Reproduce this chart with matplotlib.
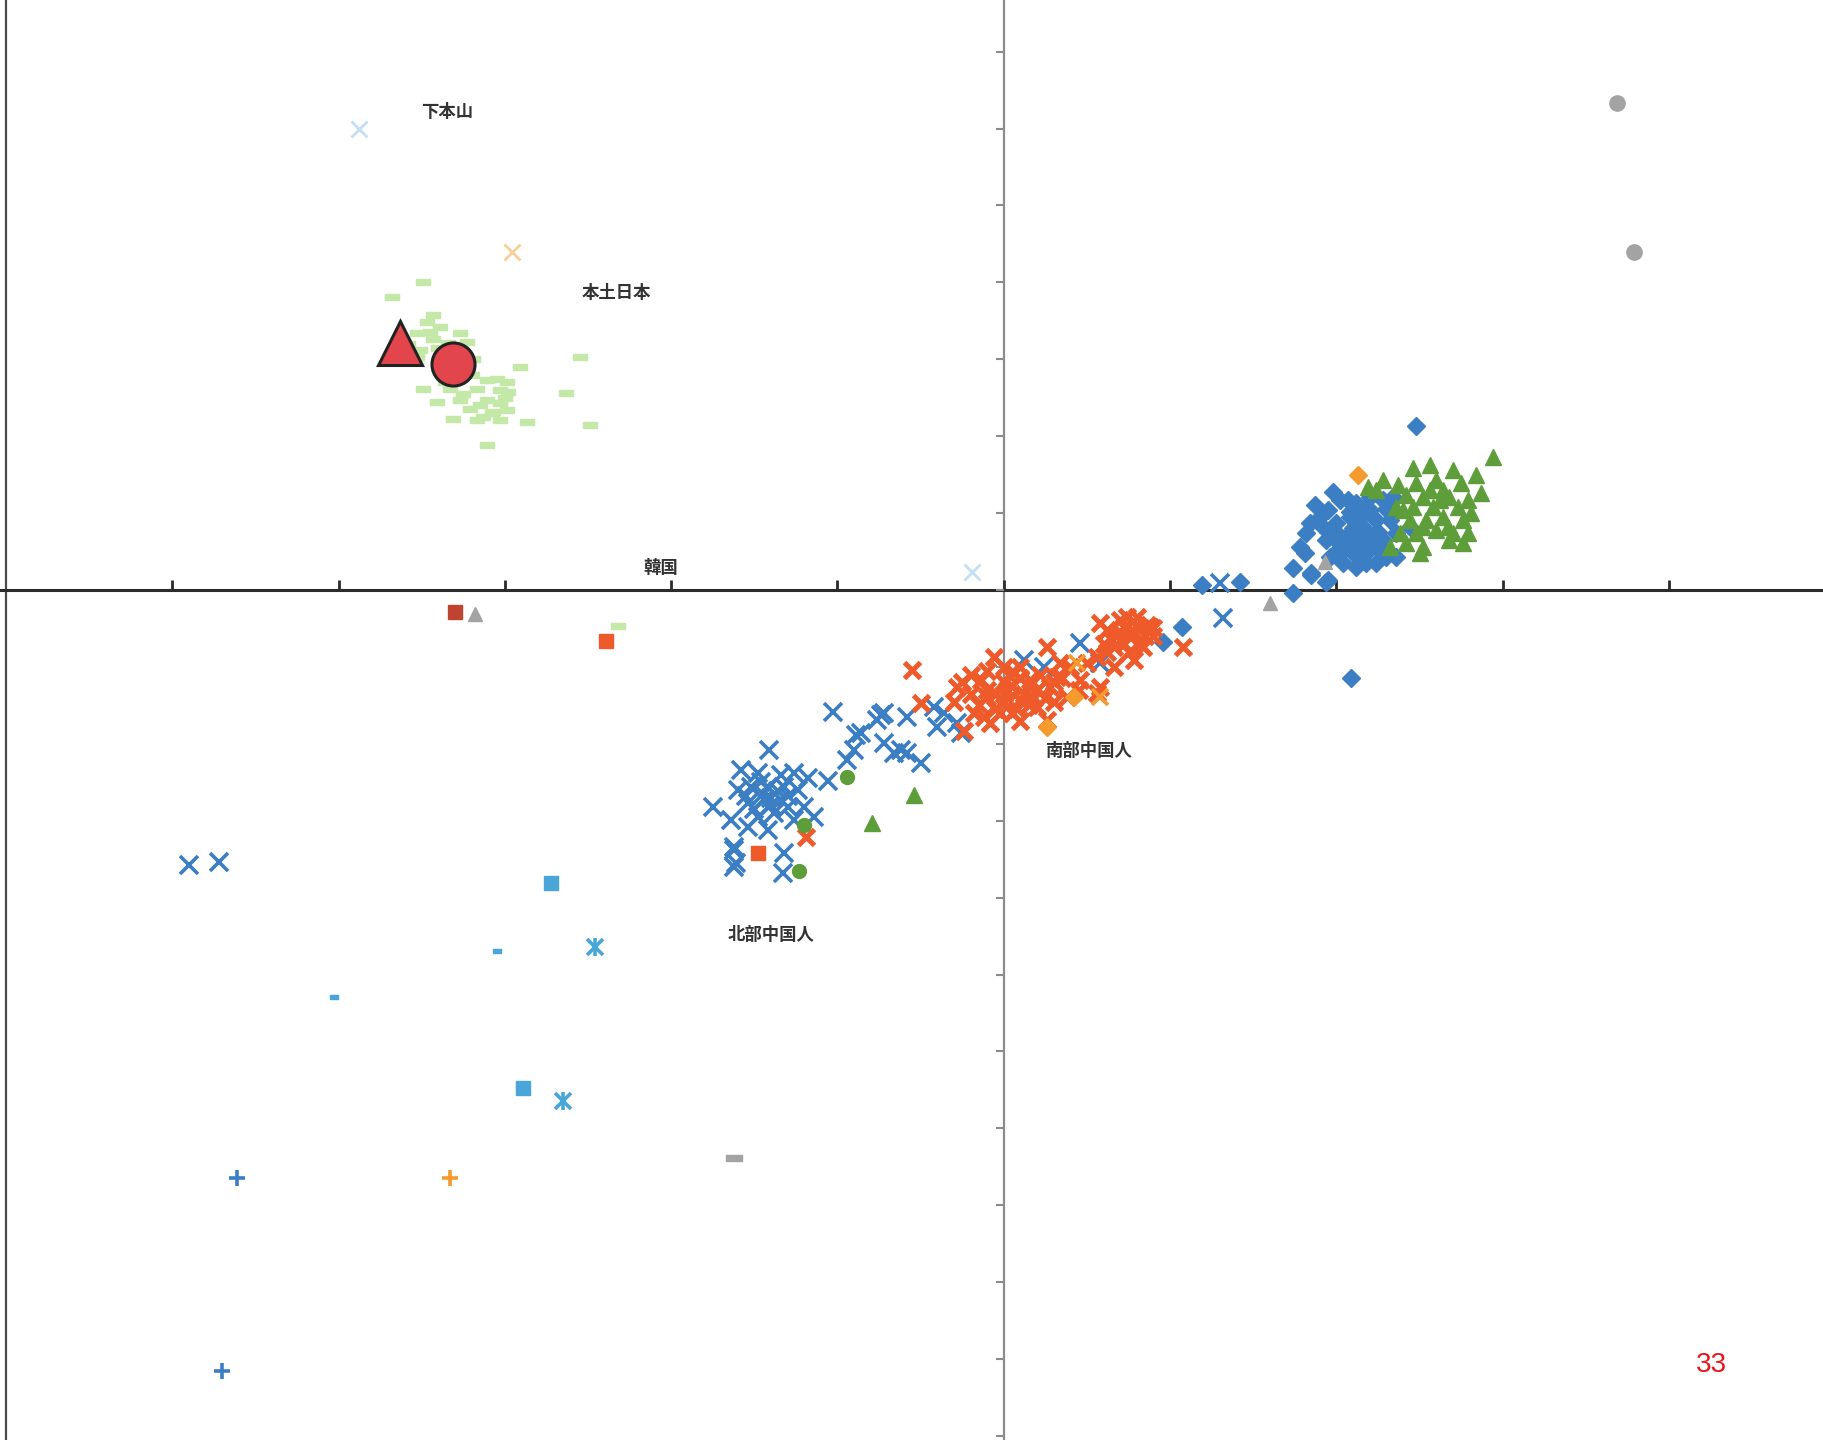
import matplotlib
matplotlib.use("Agg")
import matplotlib.pyplot as plt

# ---------------- data (PCA coordinates, in axis-tick units) ----------------
# light green dashes (mainland Japanese)
jp_x = [-3.49, -3.68, -3.43, -3.47, -3.39, -3.53, -3.27, -3.43, -3.34, -3.23, -3.51, -3.53, -3.29,
        -3.19, -2.91, -3.05, -3.11, -2.99, -3.49, -3.33, -3.17, -3.03, -2.98, -2.63, -3.41, -3.27,
        -3.11, -3.03, -3.21, -2.99, -3.07, -3.13, -3.31, -3.17, -3.03, -2.87, -2.49, -3.11, -2.55,
        -3.45, -3.40, -3.20, -3.00, -3.15, -3.25, -2.32, -3.36, -3.22, -3.08, -3.38, -3.58]
jp_y = [4.01, 3.81, 3.58, 3.49, 3.42, 3.34, 3.34, 3.27, 3.21, 3.23, 3.12, 3.03, 3.08,
        3.01, 2.90, 2.75, 2.73, 2.71, 2.62, 2.62, 2.62, 2.60, 2.58, 2.56, 2.45, 2.47,
        2.47, 2.43, 2.36, 2.34, 2.32, 2.25, 2.23, 2.21, 2.21, 2.19, 2.15, 1.89, 3.03,
        3.35, 3.15, 2.80, 2.50, 2.40, 2.55, -0.47, 2.70, 2.90, 2.30, 2.85, 3.20]

# ancient samples (big red)
anc_tri = (-3.63, 3.21)
anc_circ = (-3.31, 2.94)

# blue diamonds (right cluster)
bd_x = [2.48, 1.98, 1.87, 2.07, 1.95, 1.84, 1.82, 1.78, 1.81, 1.74, 1.85, 1.95, 1.74, 2.02, 2.12,
        2.20, 2.28, 2.34, 2.08, 2.00, 2.16, 2.24, 2.32, 2.36, 2.08, 2.00, 1.94, 2.18, 2.28, 2.02,
        2.10, 2.18, 2.26, 2.36, 2.12, 2.18, 2.04, 2.44, 2.30, 2.20, 1.92, 2.06, 2.14, 2.24, 1.96,
        2.10, 2.15, 2.05, 2.25, 2.12, 2.20, 2.00, 2.30, 2.08, 2.16, 2.22, 2.02, 2.27, 2.14, 1.90,
        1.19, 1.42, 1.85, 1.94, 1.07, 0.96, 2.09]
bd_y = [2.13, 1.28, 1.11, 1.17, 1.04, 0.87, 0.74, 0.56, 0.48, 0.28, 0.22, 0.13, -0.04, 1.17, 1.13,
        1.21, 1.17, 1.21, 0.95, 0.87, 0.82, 0.91, 0.91, 0.74, 0.74, 0.65, 0.65, 0.65, 0.65, 0.48,
        0.48, 0.48, 0.52, 0.43, 0.30, 0.35, 0.35, 0.82, 0.43, 1.04, 0.82, 0.56, 0.56, 0.35, 0.43,
        0.80, 0.95, 0.62, 0.75, 0.68, 0.60, 0.75, 1.05, 1.02, 1.05, 0.70, 0.55, 0.58, 0.40, 0.95,
        0.07, 0.11, 0.20, 0.11, -0.48, -0.67, -1.15]

# green triangles (right cluster)
gt_x = [2.94, 2.56, 2.46, 2.70, 2.84, 2.28, 2.19, 2.37, 2.48, 2.60, 2.75, 2.64, 2.87, 2.42, 2.52,
        2.68, 2.79, 2.36, 2.46, 2.58, 2.73, 2.81, 2.44, 2.54, 2.64, 2.76, 2.38, 2.48, 2.60, 2.70,
        2.79, 2.42, 2.52, 2.68, 2.76, 2.50, 2.32, 2.24, 2.56, 2.62, 2.52, 2.67, 2.40]
gt_y = [1.73, 1.63, 1.58, 1.56, 1.50, 1.43, 1.34, 1.37, 1.39, 1.43, 1.39, 1.30, 1.26, 1.24, 1.21,
        1.21, 1.17, 1.08, 1.08, 1.08, 1.08, 1.00, 0.91, 0.91, 0.95, 0.91, 0.74, 0.74, 0.78, 0.74,
        0.74, 0.61, 0.56, 0.65, 0.61, 0.48, 0.56, 1.30, 1.30, 1.17, 0.82, 0.82, 1.04]

# small green markers near the northern cluster
gc_x = [-0.94, -1.20, -1.23]
gc_y = [-2.43, -3.06, -3.65]
gt2_x = [-0.54, -0.79]
gt2_y = [-2.67, -3.03]

# red-orange crosses (southern Chinese)
rx_x = [-0.55, -0.50, -0.28, -0.06, -0.14, -0.10, -0.18, -0.08, -0.02, 0.02, 0.06, 0.10, 0.16,
        0.20, 0.26, 0.28, 0.26, 0.34, 0.38, 0.32, 0.46, 0.50, 0.58, 0.56, 0.62, 0.66, 0.70, 0.76,
        0.78, 0.84, 0.88, 0.74, 0.58, 0.66, 1.08, 0.56, -0.24,
        0.00, -0.05, 0.05, 0.10, 0.12, 0.20, -0.10, -0.20, 0.15, 0.00, 0.22, 0.40, 0.45, 0.30,
        -0.15, 0.08, 0.70, 0.80, 0.65, 0.75, 0.85, 0.60, 0.72, 0.90,
        -0.25, -0.20, -0.10, 0.00, 0.10, 0.15, 0.25, 0.05, -0.05, 0.18, -0.30, 0.30, 0.35, 0.10,
        -0.12, 0.00, 0.03, 0.78, 0.82, 0.68, 0.72, 0.90, 0.62, 0.80, 0.86, -1.19]
rx_y = [-1.04, -1.47, -1.26, -0.87, -1.17, -1.39, -1.60, -1.73, -1.60, -1.30, -1.08, -1.43, -1.17,
        -1.52, -0.74, -1.26, -1.69, -0.95, -1.39, -1.13, -1.17, -0.95, -1.26, -0.87, -0.52, -0.74,
        -0.39, -0.61, -0.91, -0.74, -0.48, -0.35, -0.43, -1.00, -0.74, -1.34, -1.83,
        -1.20, -1.35, -1.25, -1.15, -1.35, -1.30, -1.05, -1.35, -1.50, -1.45, -1.10, -1.00, -1.30,
        -1.45, -1.50, -1.55, -0.55, -0.45, -0.65, -0.80, -0.60, -0.70, -0.48, -0.60,
        -1.20, -1.10, -1.30, -1.00, -1.00, -1.25, -1.40, -1.60, -1.55, -1.40, -1.45, -1.20, -1.15,
        -1.70, -1.65, -1.35, -1.10, -0.55, -0.70, -0.58, -0.70, -0.50, -0.80, -0.35, -0.45, -3.21]

# orange markers
ox_x = [0.44, 0.58]
ox_y = [-0.95, -1.39]
od_x = [2.13, 0.42, 0.26]
od_y = [1.50, -1.39, -1.78]
op_x = [-3.33]
op_y = [-7.65]

# blue crosses (northern Chinese and others)
bx_x = [-1.41, -1.58, -1.48, -1.34, -1.26, -1.18, -1.06, -1.60, -1.52, -1.42, -1.32, -1.24, -1.75,
        -1.64, -1.54, -1.44, -1.34, -1.48, -1.38, -1.30, -1.20, -1.14, -1.54, -1.42, -1.62, -1.61,
        -1.32, -1.33, -1.26, -0.94, -0.90, -0.86, -0.72, -0.66, -0.58, -0.50, -0.76, -1.03, -0.74,
        -0.89, -1.62, -1.62, -0.72, -0.58, -0.42, -0.36, -0.28, -0.40, -0.62, -0.26, 0.46, 0.12,
        0.24, 0.58, 1.32, 1.30, -4.90, -4.72,
        -1.45, -1.40, -1.50, -1.36, -1.46, -1.40, -1.30, -1.55]
bx_y = [-2.08, -2.34, -2.38, -2.41, -2.38, -2.45, -2.49, -2.60, -2.56, -2.56, -2.56, -2.60, -2.82,
        -2.99, -2.77, -2.73, -2.73, -2.95, -2.90, -2.82, -2.82, -2.95, -3.08, -3.12, -3.34, -3.55,
        -3.42, -3.68, -2.99, -2.21, -2.08, -1.86, -1.99, -2.12, -2.12, -2.25, -1.69, -1.59, -1.63,
        -1.89, -3.60, -3.38, -1.60, -1.65, -1.52, -1.60, -1.73, -1.78, -2.08, -1.86, -0.69, -0.91,
        -1.00, -0.95, -0.37, 0.09, -3.57, -3.54,
        -2.65, -2.70, -2.85, -2.62, -2.50, -2.80, -2.68, -2.68]

# light blue markers (outliers)
lbs_x = [-2.72, -2.89]
lbs_y = [-3.81, -6.47]
lbdot_x = [-3.05, -4.03]
lbdot_y = [-4.70, -5.29]
lbstar_x = [-2.46, -2.65]
lbstar_y = [-4.64, -6.65]
bp_x = [-4.61, -4.70]
bp_y = [-7.65, -10.15]

# faint markers
fb_x = [-3.88, -0.19]
fb_y = [5.99, 0.23]
fo_x = [-2.96]
fo_y = [4.39]

# gray markers
gcirc_x = [3.69, 3.79]
gcirc_y = [6.33, 4.39]
gtri_x = [1.93, 1.60, -3.18]
gtri_y = [0.37, -0.17, -0.31]
gdash_x = [-1.62]
gdash_y = [-7.39]

# red squares
drs = (-3.30, -0.28)
rs_x = [-2.39, -1.48]
rs_y = [-0.66, -3.42]

# labels
labels = ["下本山", "本土日本", "韓国", "南部中国人", "北部中国人"]
label_x = [-3.35, -2.33, -2.06, 0.51, -1.40]
label_y = [6.22, 3.86, 0.29, -2.10, -4.49]

# ---------------- figure ----------------
BLUE = "#3b7ec3"
GREEN = "#5e9e3a"
REDX = "#ef5a2b"
ORANGE = "#f59a2c"
LBLUE = "#4aa5d9"
LGREEN = "#c4e8a8"
GRAY = "#a3a3a3"

fig = plt.figure(figsize=(18.24, 14.4), dpi=100)
ax = fig.add_axes([0, 0, 1, 1])
ax.set_xlim(-6.036, 4.932)
ax.set_ylim(-11.053, 7.672)

dash = [(-1, -0.42), (1, -0.42), (1, 0.42), (-1, 0.42), (-1, -0.42)]

ax.plot(jp_x, jp_y, ls="none", marker=dash, ms=10, color=LGREEN, mec=LGREEN, zorder=2)
ax.plot(bx_x, bx_y, ls="none", marker="x", ms=13, mew=2.6, color=BLUE, zorder=3)
ax.plot(rx_x, rx_y, ls="none", marker="x", ms=12, mew=3.6, color=REDX, zorder=4)
ax.plot(ox_x, ox_y, ls="none", marker="x", ms=12, mew=2.6, color=ORANGE, zorder=4)
ax.plot(bd_x, bd_y, ls="none", marker="D", ms=9, color=BLUE, mec=BLUE, zorder=3)
ax.plot(gt_x, gt_y, ls="none", marker="^", ms=11, color=GREEN, mec=GREEN, zorder=3)
ax.plot(od_x, od_y, ls="none", marker="D", ms=9, color=ORANGE, mec=ORANGE, zorder=5)
ax.plot(gc_x, gc_y, ls="none", marker="o", ms=10, color=GREEN, mec=GREEN, zorder=5)
ax.plot(gt2_x, gt2_y, ls="none", marker="^", ms=11, color=GREEN, mec=GREEN, zorder=5)
ax.plot(op_x, op_y, ls="none", marker="+", ms=11, mew=2.6, color=ORANGE, zorder=5)
ax.plot(lbs_x, lbs_y, ls="none", marker="s", ms=10, color=LBLUE, mec=LBLUE, zorder=5)
ax.plot(lbdot_x, lbdot_y, ls="none", marker=dash, ms=6, color=LBLUE, mec=LBLUE, zorder=5)
ax.plot(lbstar_x, lbstar_y, ls="none", marker="x", ms=11, mew=2.6, color=LBLUE, zorder=5)
ax.plot(lbstar_x, lbstar_y, ls="none", marker="|", ms=13, mew=2.6, color=LBLUE, zorder=5)
ax.plot(bp_x, bp_y, ls="none", marker="+", ms=11, mew=2.6, color=BLUE, zorder=5)
ax.plot(fb_x, fb_y, ls="none", marker="x", ms=11, mew=2.0, color="#c4def2", zorder=2)
ax.plot(fo_x, fo_y, ls="none", marker="x", ms=11, mew=2.0, color="#f8cf98", zorder=2)
ax.plot(gcirc_x, gcirc_y, ls="none", marker="o", ms=11, color=GRAY, mec=GRAY, zorder=5)
ax.plot(gtri_x, gtri_y, ls="none", marker="^", ms=10, color=GRAY, mec=GRAY, zorder=5)
ax.plot(gdash_x, gdash_y, ls="none", marker=dash, ms=11, color=GRAY, mec=GRAY, zorder=5)
ax.plot([drs[0]], [drs[1]], ls="none", marker="s", ms=10, color="#bf4430", mec="#bf4430", zorder=5)
ax.plot(rs_x, rs_y, ls="none", marker="s", ms=10, color=REDX, mec=REDX, zorder=5)

ax.plot([anc_tri[0]], [anc_tri[1]], ls="none", marker="^", ms=31, color="#e2464c",
        mec="#222222", mew=2.2, zorder=8)
ax.plot([anc_circ[0]], [anc_circ[1]], ls="none", marker="o", ms=31, color="#e2464c",
        mec="#222222", mew=2.2, zorder=8)

for t, x, y in zip(labels, label_x, label_y):
    ax.text(x, y, t, ha="center", va="center", fontsize=12.5, fontweight="bold",
            color="#333333", family=["Noto Sans CJK JP", "DejaVu Sans"], zorder=9)

# axes through origin
for s in ["top", "right"]:
    ax.spines[s].set_visible(False)
ax.spines["left"].set_position(("data", 0))
ax.spines["bottom"].set_position(("data", 0))
ax.spines["left"].set_color("#8c8c8c")
ax.spines["left"].set_linewidth(1.6)
ax.spines["bottom"].set_color("#2b2b2b")
ax.spines["bottom"].set_linewidth(2.2)
ax.spines["left"].set_zorder(1)
ax.spines["bottom"].set_zorder(1)
ax.set_xticks(range(-5, 5))
ax.set_yticks(range(-11, 8))
ax.tick_params(axis="x", direction="in", length=7, width=2, color="#2b2b2b",
               labelbottom=False)
ax.tick_params(axis="y", direction="out", length=6, width=1.5, color="#8c8c8c",
               labelleft=False)
ax.axvline(-6.0, color="#4a4a4a", lw=1.6, zorder=1)

fig.text(1711 / 1824, 1 - 1365 / 1440, "33", color="#e8141a", fontsize=20,
         ha="center", va="center", family="Liberation Sans")

fig.savefig("out.png", dpi=100, facecolor="white")
